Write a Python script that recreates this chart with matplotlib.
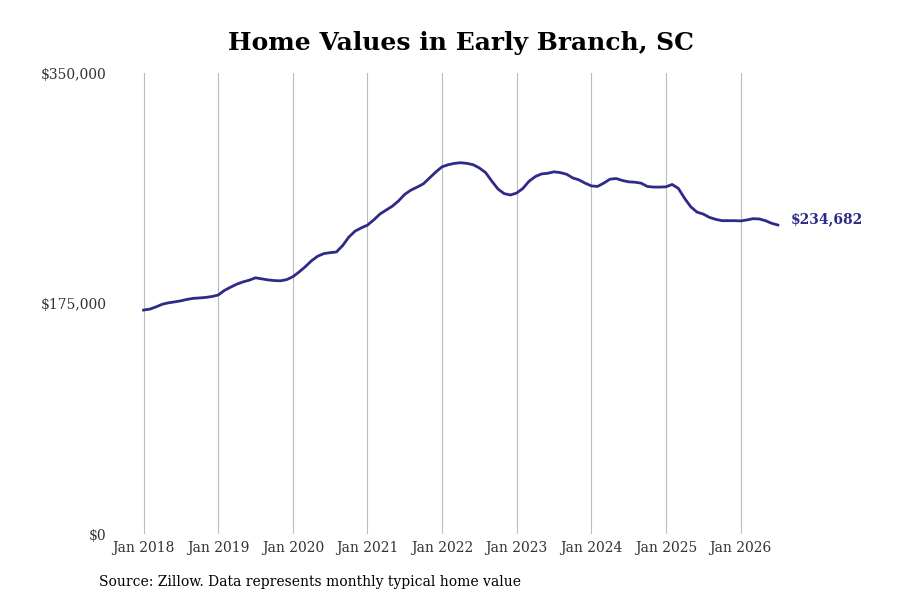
import matplotlib
matplotlib.use("Agg")
import matplotlib.pyplot as plt
from matplotlib.ticker import FuncFormatter

# monthly typical home value, Jan 2018 .. Jul 2026
values = [
    170100, 170800, 172500, 174500, 175600, 176300, 177100, 178200, 179000, 179300, 179700, 180400,
    181500, 185000, 187500, 189800, 191500, 192800, 194600, 193800, 193000, 192500, 192300, 193200,
    195400, 199000, 203000, 207500, 211000, 213000, 213700, 214200, 219000, 225500, 230000, 232500,
    234600, 238500, 243000, 246000, 249000, 253000, 258000, 261200, 263500, 266000, 270500, 275000,
    278900, 280500, 281500, 282000, 281500, 280500, 278000, 274500, 268000, 262000, 258500, 257500,
    259000, 262500, 268000, 271500, 273500, 274000, 275100, 274500, 273300, 270500, 269000, 266500,
    264400, 264000, 266500, 269500, 270000, 268500, 267500, 267200, 266500, 264000, 263500, 263500,
    263700, 265500, 262500, 255000, 248500, 244500, 243000, 240500, 239000, 238000, 238000, 238000,
    237800, 238500, 239500, 239300, 238000, 236000, 234682,
]
months = list(range(len(values)))
tick_pos = [0, 12, 24, 36, 48, 60, 72, 84, 96]
tick_labels = ["Jan 2018", "Jan 2019", "Jan 2020", "Jan 2021", "Jan 2022",
               "Jan 2023", "Jan 2024", "Jan 2025", "Jan 2026"]
y_ticks = [0, 175000, 350000]

line_color = "#2e2b88"
plt.rcParams["font.family"] = ["DejaVu Serif"]

fig = plt.figure(figsize=(9, 6), dpi=100)
ax = fig.add_axes([0.125, 0.11, 0.845, 0.768])

ax.plot(months, values, color=line_color, linewidth=2)
ax.set_xlim(-5, 117.3)
ax.set_ylim(0, 350000)

ax.set_xticks(tick_pos)
ax.set_xticklabels(tick_labels)
ax.set_yticks(y_ticks)
ax.yaxis.set_major_formatter(FuncFormatter(lambda v, p: "${:,.0f}".format(v)))
ax.tick_params(axis="both", length=0, labelsize=10, labelcolor="#333333")
ax.tick_params(axis="x", pad=5)
ax.tick_params(axis="y", pad=4.5)

ax.grid(axis="x", color="#bbbbbb", linewidth=0.8)
ax.grid(axis="y", visible=False)
for s in ax.spines.values():
    s.set_visible(False)

# end label
ax.annotate("${:,.0f}".format(values[-1]), (months[-1], values[-1]),
            xytext=(9.5, 4.5), textcoords="offset points", va="center", ha="left",
            fontsize=10, fontweight="bold", color=line_color)

fig.text(0.512, 0.928, "Home Values in Early Branch, SC", ha="center", va="center",
         fontsize=18, fontweight="bold")
fig.text(0.11, 0.03, "Source: Zillow. Data represents monthly typical home value",
         ha="left", va="center", fontsize=10)

fig.savefig("out.png", dpi=100)
